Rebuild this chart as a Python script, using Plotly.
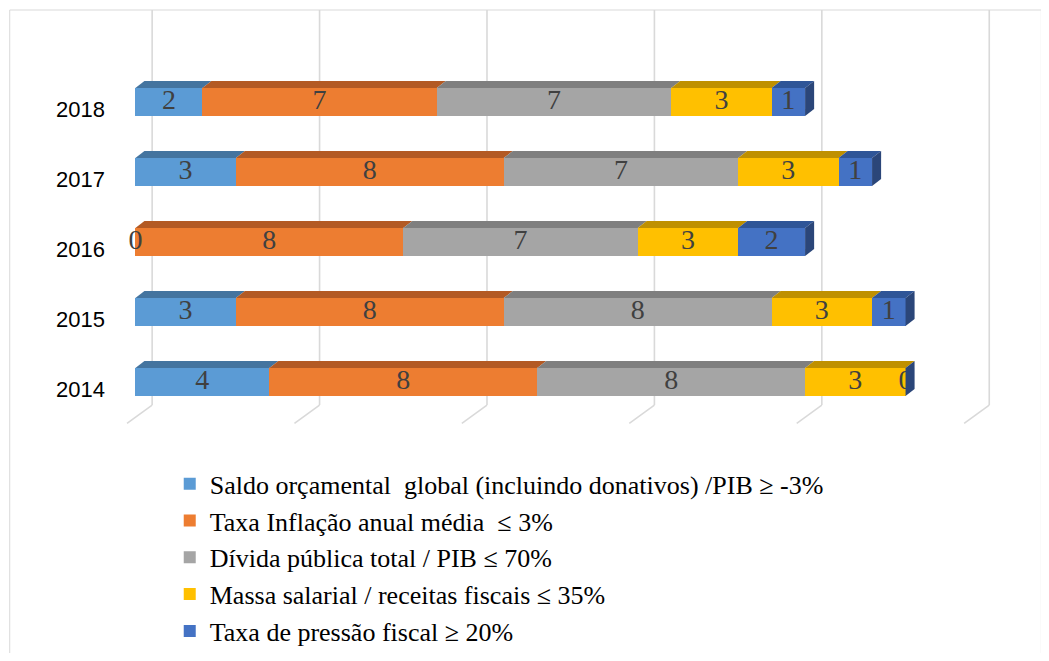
import plotly.graph_objects as go

years = ["2014", "2015", "2016", "2017", "2018"]
series_names = [
    "Saldo orçamental  global (incluindo donativos) /PIB ≥ -3%",
    "Taxa Inflação anual média  ≤ 3%",
    "Dívida pública total / PIB ≤ 70%",
    "Massa salarial / receitas fiscais ≤ 35%",
    "Taxa de pressão fiscal ≥ 20%",
]
saldo = [4, 3, 0, 3, 2]
inflacao = [8, 8, 8, 8, 7]
divida = [8, 8, 7, 7, 7]
massa = [3, 3, 3, 3, 3]
pressao = [0, 1, 2, 1, 1]
series_values = [saldo, inflacao, divida, massa, pressao]

front_colors = ["#5b9bd5", "#ed7d31", "#a5a5a5", "#ffc000", "#4472c4"]
top_colors = ["#44749f", "#b35a24", "#7f7f7f", "#bf9000", "#2f5597"]
side_color = "#2b4679"

BAR_W = 0.4
DX = 0.27
DY = 0.1

fig = go.Figure()
ypos = list(range(len(years)))

shapes = []
# background gridlines (3D back wall with floor diagonals)
for g in range(0, 30, 5):
    shapes.append(dict(type="line", xref="x", yref="y", x0=g + 0.5, x1=g + 0.5,
                       y0=-0.33, y1=5.4, line=dict(color="#d9d9d9", width=1.6), layer="below"))
    shapes.append(dict(type="line", xref="x", yref="y", x0=g + 0.5, x1=g - 0.25,
                       y0=-0.33, y1=-0.59, line=dict(color="#d9d9d9", width=1.6), layer="below"))

label_x, label_y, label_t = [], [], []
cum = [0.0] * len(years)
for s, (name, vals) in enumerate(zip(series_names, series_values)):
    fig.add_trace(go.Bar(
        y=ypos, x=vals, orientation="h", name=name, width=BAR_W,
        marker=dict(color=front_colors[s], line=dict(width=0)),
        hoverinfo="x+name",
    ))
    for i, v in enumerate(vals):
        c0 = cum[i]
        c1 = c0 + v
        yt = i + BAR_W / 2
        if v > 0:
            path = (f"M {c0},{yt} L {c1},{yt} L {c1 + DX},{yt + DY} "
                    f"L {c0 + DX},{yt + DY} Z")
            shapes.append(dict(type="path", xref="x", yref="y", path=path,
                               fillcolor=top_colors[s], line=dict(width=0), layer="above"))
        label_x.append(c0 + v / 2)
        label_y.append(i)
        label_t.append(str(v))
        cum[i] = c1

# right side face of each bar
for i, total in enumerate(cum):
    yb = i - BAR_W / 2
    yt = i + BAR_W / 2
    path = (f"M {total},{yb} L {total},{yt} L {total + DX},{yt + DY} "
            f"L {total + DX},{yb + DY} Z")
    shapes.append(dict(type="path", xref="x", yref="y", path=path,
                       fillcolor=side_color, line=dict(width=0), layer="above"))

fig.add_trace(go.Scatter(
    x=label_x, y=label_y, text=label_t, mode="text", showlegend=False,
    textfont=dict(family="Liberation Serif", size=28, color="#404040"),
    hoverinfo="skip", cliponaxis=False,
))

# chart border
shapes.append(dict(type="rect", xref="paper", yref="paper", x0=-0.127, x1=1.04,
                   y0=-0.6, y1=1.0, line=dict(color="#d9d9d9", width=1), layer="below"))

fig.update_layout(
    width=1033, height=645,
    margin=dict(l=114, r=35, t=2, b=228, autoexpand=False),
    paper_bgcolor="white", plot_bgcolor="white",
    barmode="stack",
    shapes=shapes,
    showlegend=True,
    legend=dict(
        x=0.054, y=-0.085, xanchor="left", yanchor="top",
        orientation="v", traceorder="normal",
        font=dict(family="Liberation Serif", size=26, color="#000000"),
        bgcolor="rgba(0,0,0,0)", itemwidth=30,
    ),
    xaxis=dict(range=[-0.4, 26], showgrid=False, zeroline=False,
               showticklabels=False, showline=False),
    yaxis=dict(range=[-0.614, 5.314], showgrid=False, zeroline=False,
               tickmode="array", tickvals=[i - 0.1 for i in ypos], ticktext=years,
               tickfont=dict(family="Liberation Sans", size=22, color="#000000"),
               ticklabelstandoff=16, showline=False, ticks=""),
)

fig.write_html("out.html")
